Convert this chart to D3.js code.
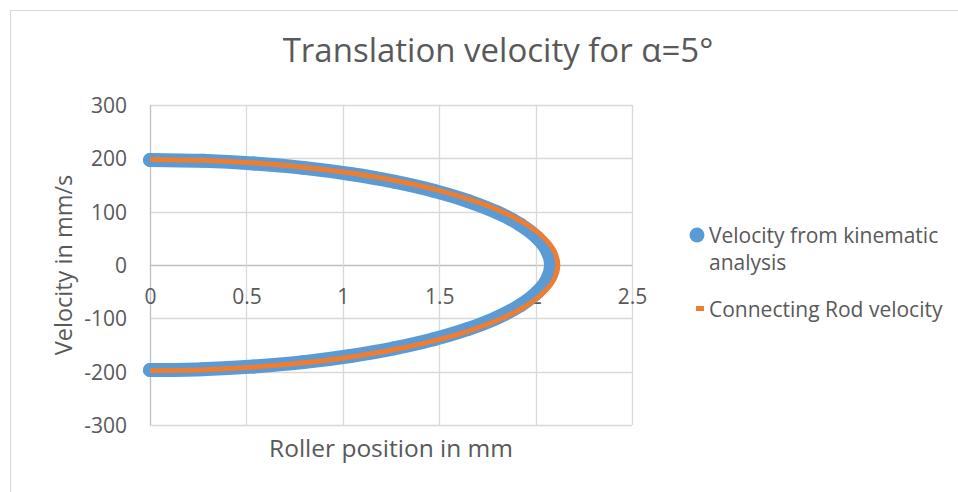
<!DOCTYPE html>
<html>
<head>
<meta charset="utf-8">
<script src="https://cdn.jsdelivr.net/npm/d3@7"></script>
<style>
  html, body { margin: 0; padding: 0; background: #fff; }
  svg { display: block; }
  text { font-family: "Open Sans", "Liberation Sans", sans-serif; fill: #595959; }
</style>
</head>
<body>
<svg id="chart" width="958" height="492"></svg>
<script>
// ---- data ----
const xTicks = [0, 0.5, 1, 1.5, 2, 2.5];
const yTicks = [-300, -200, -100, 0, 100, 200, 300];

const kinematicX = [0, 0.271, 0.538, 0.796, 1.040, 1.266, 1.471, 1.650, 1.801, 1.922, 2.009, 2.062, 2.080,
                    2.062, 2.009, 1.922, 1.801, 1.650, 1.471, 1.266, 1.040, 0.796, 0.538, 0.271, 0];
const kinematicV = [197, 195.3, 190.3, 182.1, 170.6, 156.3, 139.3, 119.9, 98.5, 75.4, 51.0, 25.7, 0,
                    -25.7, -51.0, -75.4, -98.5, -119.9, -139.3, -156.3, -170.6, -182.1, -190.3, -195.3, -197];

const rodX = [0, 0.276, 0.547, 0.809, 1.058, 1.288, 1.496, 1.678, 1.832, 1.954, 2.043, 2.097, 2.115,
              2.097, 2.043, 1.954, 1.832, 1.678, 1.496, 1.288, 1.058, 0.809, 0.547, 0.276, 0];
const rodV = [198, 196.3, 191.3, 182.9, 171.5, 157.1, 140.0, 120.5, 99.0, 75.8, 51.2, 25.8, 0,
              -25.8, -51.2, -75.8, -99.0, -120.5, -140.0, -157.1, -171.5, -182.9, -191.3, -196.3, -198];

const seriesNames = ["Velocity from kinematic", "analysis", "Connecting Rod velocity"];
const title = "Translation velocity for α=5°";
const xTitle = "Roller position in mm";
const yTitle = "Velocity in mm/s";

// ---- layout ----
const svg = d3.select("#chart");
const blue = "#5b9bd5", orange = "#ed7d31";

svg.append("rect").attr("x", 10.5).attr("y", 10.5).attr("width", 960).attr("height", 500)
  .attr("fill", "#fff").attr("stroke", "#d9d9d9");

const x = d3.scaleLinear().domain([0, 2.5]).range([150, 632]);
const y = d3.scaleLinear().domain([-300, 300]).range([425, 105]);

// gridlines
const grid = svg.append("g");
grid.selectAll(".hg").data(yTicks).join("line")
  .attr("x1", x(0)).attr("x2", x(2.5))
  .attr("y1", d => Math.round(y(d)) + 0.5).attr("y2", d => Math.round(y(d)) + 0.5)
  .attr("stroke", d => d === 0 ? "#bfbfbf" : "#d9d9d9").attr("stroke-width", 1.3);
grid.selectAll(".vg").data(xTicks).join("line")
  .attr("y1", y(300)).attr("y2", y(-300))
  .attr("x1", d => Math.round(x(d)) + 0.5).attr("x2", d => Math.round(x(d)) + 0.5)
  .attr("stroke", d => d === 0 ? "#bfbfbf" : "#d9d9d9").attr("stroke-width", 1.3);

// axes labels via d3 axes
const yAxis = svg.append("g").attr("transform", `translate(${x(0) - 23},0)`)
  .call(d3.axisLeft(y).tickValues(yTicks).tickSize(0).tickPadding(0).tickFormat(d => String(d)));
yAxis.select(".domain").remove();
yAxis.selectAll("text").attr("font-size", 21).attr("fill", "#595959").attr("dy", "0.36em")
  .style("font-family", "'Open Sans', sans-serif");

const xAxis = svg.append("g").attr("transform", `translate(0,${y(0)})`)
  .call(d3.axisBottom(x).tickValues(xTicks).tickSize(0).tickPadding(0).tickFormat(d => String(d)));
xAxis.select(".domain").remove();
xAxis.selectAll("text").attr("font-size", 21).attr("fill", "#595959").attr("y", 39).attr("dy", 0)
  .style("font-family", "'Open Sans', sans-serif");

// series
const kin = kinematicX.map((d, i) => [d, kinematicV[i]]);
const rod = rodX.map((d, i) => [d, rodV[i]]);
const line = d3.line().x(d => x(d[0])).y(d => y(d[1])).curve(d3.curveCatmullRom);

svg.append("path").datum(kin).attr("d", line).attr("fill", "none")
  .attr("stroke", blue).attr("stroke-width", 14).attr("stroke-linecap", "round").attr("stroke-linejoin", "round");
svg.append("g").selectAll("circle").data(kin).join("circle")
  .attr("cx", d => x(d[0])).attr("cy", d => y(d[1])).attr("r", 7).attr("fill", blue);

svg.append("path").datum(rod).attr("d", line).attr("fill", "none")
  .attr("stroke", orange).attr("stroke-width", 5);

// titles
svg.append("text").attr("x", 498).attr("y", 62).attr("text-anchor", "middle")
  .attr("font-size", 33).text(title);
svg.append("text").attr("x", 391).attr("y", 457).attr("text-anchor", "middle")
  .attr("font-size", 24.5).text(xTitle);
svg.append("text").attr("transform", "translate(72,265) rotate(-90)").attr("text-anchor", "middle")
  .attr("font-size", 23.5).text(yTitle);

// legend
svg.append("circle").attr("cx", 697).attr("cy", 235).attr("r", 7.5).attr("fill", blue);
svg.append("text").attr("x", 709).attr("y", 243).attr("font-size", 21).text(seriesNames[0]);
svg.append("text").attr("x", 709).attr("y", 270).attr("font-size", 21).text(seriesNames[1]);
svg.append("rect").attr("x", 696).attr("y", 306).attr("width", 8).attr("height", 5).attr("fill", orange);
svg.append("text").attr("x", 709).attr("y", 317).attr("font-size", 21).text(seriesNames[2]);
</script>
</body>
</html>
